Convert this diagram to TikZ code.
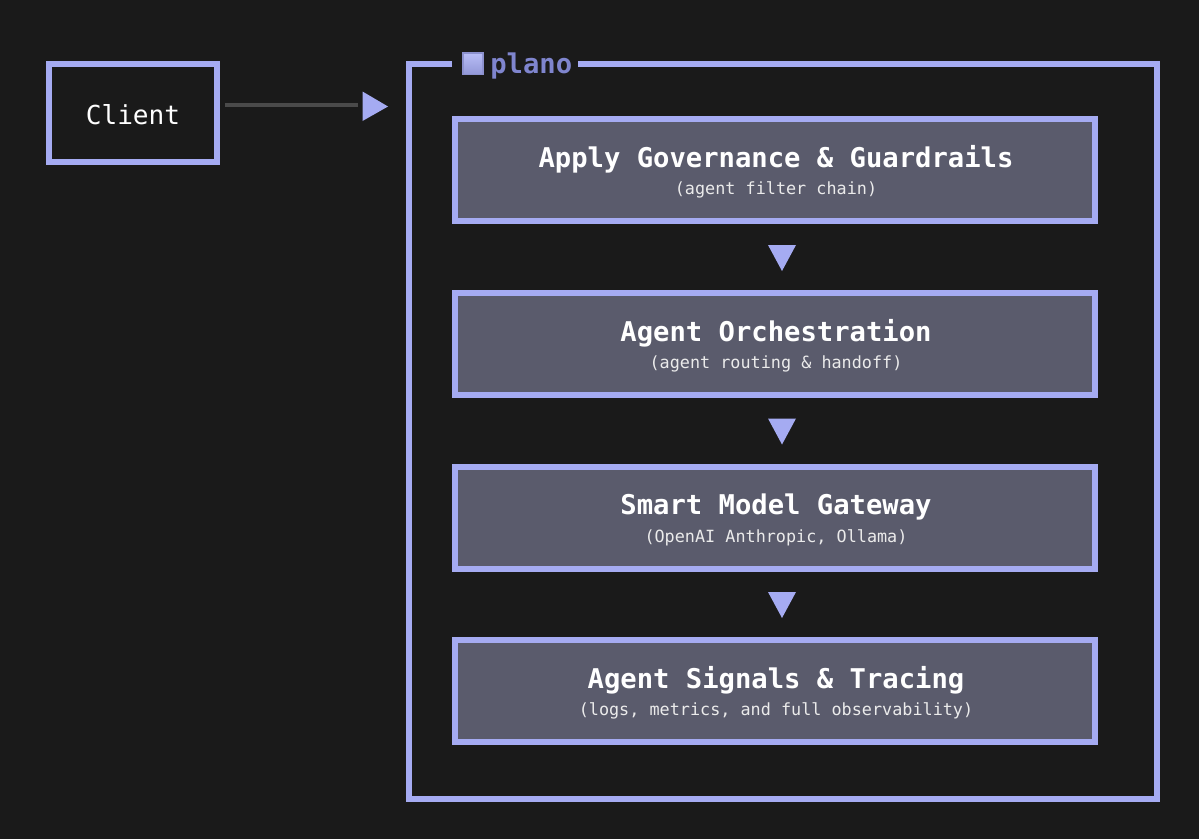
\documentclass[tikz,border=0pt]{standalone}
\usepackage{fontspec}
\setmainfont{DejaVu Sans Mono}
\definecolor{bgc}{HTML}{1A1A1A}
\definecolor{edgec}{HTML}{A5ABF2}
\definecolor{fillc}{HTML}{5A5B6C}
\definecolor{linec}{HTML}{4A4A4A}
\definecolor{planoc}{HTML}{7F85CE}
\tikzset{
  x=0.75pt,y=-0.75pt,
  stagebox/.style={draw=edgec,fill=fillc,line width=4.5pt,minimum width=480pt,minimum height=76.5pt,inner sep=0pt,outer sep=0pt},
  clientbox/.style={draw=edgec,fill=bgc,line width=4.5pt,minimum width=126pt,minimum height=73.5pt,inner sep=0pt,outer sep=0pt},
  tip/.style={fill=edgec,draw=none},
  maintext/.style={text=white,font=\fontsize{20.4pt}{23pt}\selectfont\bfseries,inner sep=0pt},
  subtext/.style={text=white!92!black,font=\fontsize{12.6pt}{14pt}\selectfont,inner sep=0pt},
}
\begin{document}
\begin{tikzpicture}
\fill[bgc] (0,0) rectangle (1199,839);
\useasboundingbox (0,0) rectangle (1199,839);
% frame
\draw[edgec,line width=4.5pt,line join=miter] (452,64) -- (408.5,64) -- (408.5,799) -- (1157,799) -- (1157,64) -- (578,64);
\fill[edgec!85!black] (462,52) rectangle (484,75);
\fill[bottom color=edgec!90!black,top color=edgec!80!white] (464,54) rectangle (482,73);
\node[anchor=west,inner sep=0pt,text=planoc,font=\fontsize{20.4pt}{23pt}\selectfont\bfseries] (plano) at (490,66) {plano};
% client
\node[clientbox] (client) at (133,113) {};
\node[text=white,inner sep=0pt,font=\fontsize{19.6pt}{22pt}\selectfont] (clientt) at (133,115) {Client};
\coordinate (ctip) at (362.5,106);
\draw[linec,line width=2.6pt] (225,105) coordinate (cs) -- (358,105);
\fill[tip] (ctip) ++(0,-14.5) -- (388,106.5) -- (362.5,121) -- cycle;
% boxes
\foreach \n/\y/\a/\b in {b1/170/Apply Governance \& Guardrails/(agent filter chain),
 b2/344/Agent Orchestration/(agent routing \& handoff),
 b3/518/Smart Model Gateway/{(OpenAI Anthropic, Ollama)},
 b4/691/Agent Signals \& Tracing/{(logs, metrics, and full observability)}}{
  \node[stagebox] (\n) at (775,\y) {};
  \node[maintext] (\n m) at (776,\y-11) {\a};
  \node[subtext] (\n s) at (776,\y+20) {\b};
}
\foreach \n/\y in {t1/245,t2/418.5,t3/592}{
  \fill[tip] (768,\y) -- (796,\y) -- (782,\y+26) -- cycle;
}
\end{tikzpicture}
\end{document}
